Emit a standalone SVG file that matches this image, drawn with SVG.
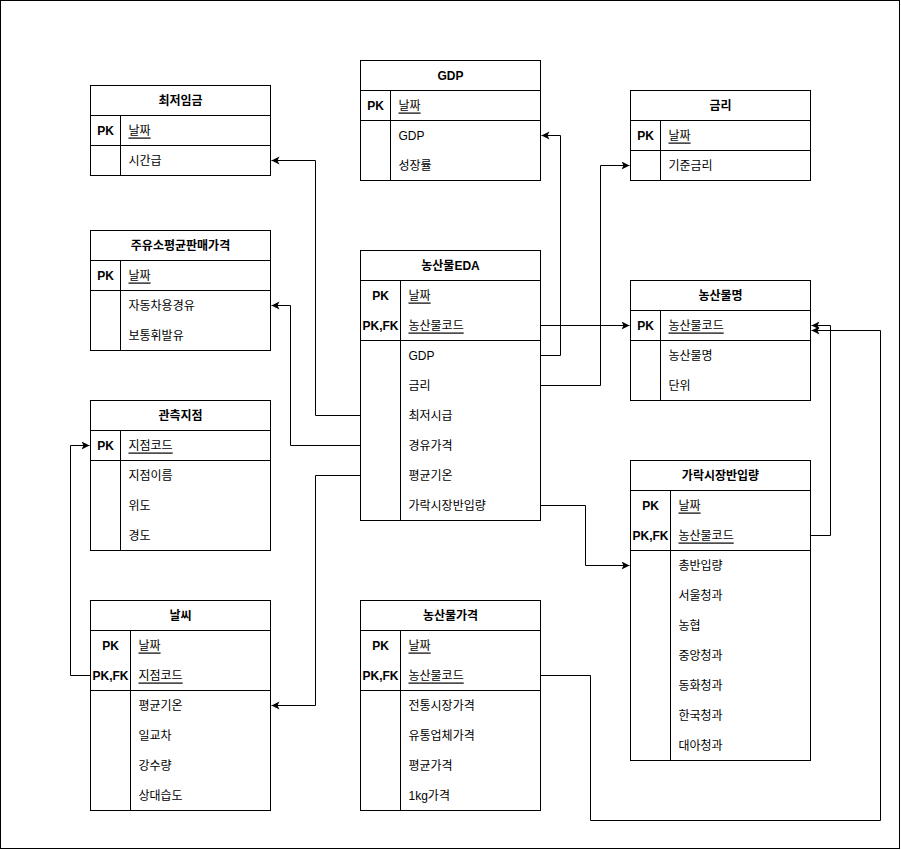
<svg xmlns="http://www.w3.org/2000/svg" width="901" height="850" viewBox="0 0 901 850">
<defs>
<style>
.box{fill:#fff;stroke:#000;stroke-width:1}
.ln{stroke:#000;stroke-width:1;fill:none}
.t{font-family:"Liberation Sans","Noto Sans CJK KR",sans-serif;font-size:12px;fill:#000;dominant-baseline:central}
.h{font-weight:bold;text-anchor:middle}
.k{font-weight:bold;text-anchor:middle}
.u{text-decoration:underline}
.c{stroke:#000;stroke-width:1;fill:none;marker-end:url(#arr)}
</style>
<marker id="arr" markerUnits="userSpaceOnUse" markerWidth="10" markerHeight="10" refX="8" refY="4" orient="auto">
<path d="M0,0 L8,4 L0,8 L2,4 Z" fill="#000"/>
</marker>
</defs>
<rect x="0" y="0" width="901" height="850" fill="#fff"/>
<g transform="translate(0.5,0.5)">
<rect x="0" y="0" width="899" height="848" fill="none" stroke="#000"/>

<g id="connectors">
<path class="c" d="M360,415 H315 V160 H271"/>
<path class="c" d="M360,445 H290 V305 H271"/>
<path class="c" d="M360,475 H315 V705 H271"/>
<path class="c" d="M90,675 H70 V445 H89"/>
<path class="c" d="M540,355 H560 V135 H541"/>
<path class="c" d="M540,385 H600 V165 H629"/>
<path class="c" d="M540,325 H629"/>
<path class="c" d="M540,505 H585 V565 H629"/>
<path class="c" d="M810,535 H830 V325 H811"/>
<path class="c" d="M540,675 H590 V820 H880 V330 H811"/>
</g>

<g id="t-minwage">
<rect class="box" x="90" y="85" width="180" height="90"/>
<path class="ln" d="M90,115 H270 M90,145 H270 M120,115 V175"/>
<text class="t h" x="180" y="100">최저임금</text>
<text class="t k" x="105" y="130">PK</text>
<text class="t u" x="128" y="130">날짜</text>
<text class="t" x="128" y="160">시간급</text>
</g>

<g id="t-gdp">
<rect class="box" x="360" y="60" width="180" height="120"/>
<path class="ln" d="M360,90 H540 M360,120 H540 M390,90 V180"/>
<text class="t h" x="450" y="75">GDP</text>
<text class="t k" x="375" y="105">PK</text>
<text class="t u" x="398" y="105">날짜</text>
<text class="t" x="398" y="135">GDP</text>
<text class="t" x="398" y="165">성장률</text>
</g>

<g id="t-rate">
<rect class="box" x="630" y="90" width="180" height="90"/>
<path class="ln" d="M630,120 H810 M630,150 H810 M660,120 V180"/>
<text class="t h" x="720" y="105">금리</text>
<text class="t k" x="645" y="135">PK</text>
<text class="t u" x="668" y="135">날짜</text>
<text class="t" x="668" y="165">기준금리</text>
</g>

<g id="t-oil">
<rect class="box" x="90" y="230" width="180" height="120"/>
<path class="ln" d="M90,260 H270 M90,290 H270 M120,260 V350"/>
<text class="t h" x="180" y="245">주유소평균판매가격</text>
<text class="t k" x="105" y="275">PK</text>
<text class="t u" x="128" y="275">날짜</text>
<text class="t" x="128" y="305">자동차용경유</text>
<text class="t" x="128" y="335">보통휘발유</text>
</g>

<g id="t-eda">
<rect class="box" x="360" y="250" width="180" height="270"/>
<path class="ln" d="M360,280 H540 M360,340 H540 M400,280 V520"/>
<text class="t h" x="450" y="265">농산물EDA</text>
<text class="t k" x="380" y="295">PK</text>
<text class="t k" x="380" y="325">PK,FK</text>
<text class="t u" x="408" y="295">날짜</text>
<text class="t u" x="408" y="325">농산물코드</text>
<text class="t" x="408" y="355">GDP</text>
<text class="t" x="408" y="385">금리</text>
<text class="t" x="408" y="415">최저시급</text>
<text class="t" x="408" y="445">경유가격</text>
<text class="t" x="408" y="475">평균기온</text>
<text class="t" x="408" y="505">가락시장반입량</text>
</g>

<g id="t-name">
<rect class="box" x="630" y="280" width="180" height="120"/>
<path class="ln" d="M630,310 H810 M630,340 H810 M660,310 V400"/>
<text class="t h" x="720" y="295">농산물명</text>
<text class="t k" x="645" y="325">PK</text>
<text class="t u" x="668" y="325">농산물코드</text>
<text class="t" x="668" y="355">농산물명</text>
<text class="t" x="668" y="385">단위</text>
</g>

<g id="t-station">
<rect class="box" x="90" y="400" width="180" height="150"/>
<path class="ln" d="M90,430 H270 M90,460 H270 M120,430 V550"/>
<text class="t h" x="180" y="415">관측지점</text>
<text class="t k" x="105" y="445">PK</text>
<text class="t u" x="128" y="445">지점코드</text>
<text class="t" x="128" y="475">지점이름</text>
<text class="t" x="128" y="505">위도</text>
<text class="t" x="128" y="535">경도</text>
</g>

<g id="t-market">
<rect class="box" x="630" y="460" width="180" height="300"/>
<path class="ln" d="M630,490 H810 M630,550 H810 M670,490 V760"/>
<text class="t h" x="720" y="475">가락시장반입량</text>
<text class="t k" x="650" y="505">PK</text>
<text class="t k" x="650" y="535">PK,FK</text>
<text class="t u" x="678" y="505">날짜</text>
<text class="t u" x="678" y="535">농산물코드</text>
<text class="t" x="678" y="565">총반입량</text>
<text class="t" x="678" y="595">서울청과</text>
<text class="t" x="678" y="625">농협</text>
<text class="t" x="678" y="655">중앙청과</text>
<text class="t" x="678" y="685">동화청과</text>
<text class="t" x="678" y="715">한국청과</text>
<text class="t" x="678" y="745">대아청과</text>
</g>

<g id="t-weather">
<rect class="box" x="90" y="600" width="180" height="210"/>
<path class="ln" d="M90,630 H270 M90,690 H270 M130,630 V810"/>
<text class="t h" x="180" y="615">날씨</text>
<text class="t k" x="110" y="645">PK</text>
<text class="t k" x="110" y="675">PK,FK</text>
<text class="t u" x="138" y="645">날짜</text>
<text class="t u" x="138" y="675">지점코드</text>
<text class="t" x="138" y="705">평균기온</text>
<text class="t" x="138" y="735">일교차</text>
<text class="t" x="138" y="765">강수량</text>
<text class="t" x="138" y="795">상대습도</text>
</g>

<g id="t-price">
<rect class="box" x="360" y="600" width="180" height="210"/>
<path class="ln" d="M360,630 H540 M360,690 H540 M400,630 V810"/>
<text class="t h" x="450" y="615">농산물가격</text>
<text class="t k" x="380" y="645">PK</text>
<text class="t k" x="380" y="675">PK,FK</text>
<text class="t u" x="408" y="645">날짜</text>
<text class="t u" x="408" y="675">농산물코드</text>
<text class="t" x="408" y="705">전통시장가격</text>
<text class="t" x="408" y="735">유통업체가격</text>
<text class="t" x="408" y="765">평균가격</text>
<text class="t" x="408" y="795">1kg가격</text>
</g>
</g>
</svg>
